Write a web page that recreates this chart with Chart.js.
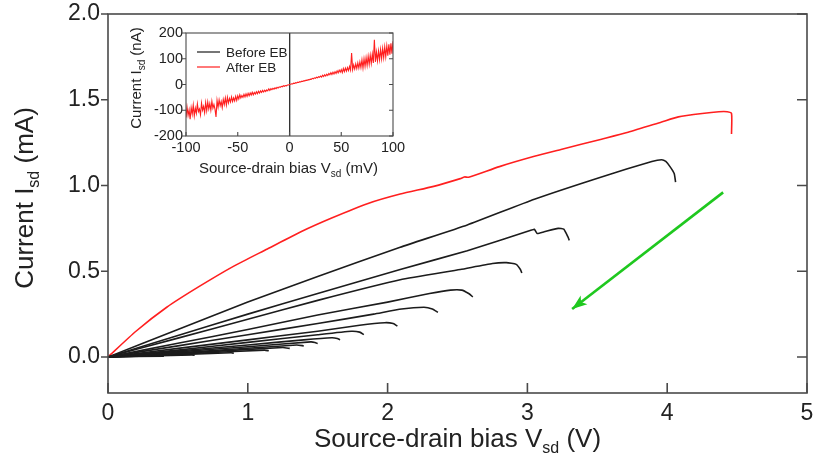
<!DOCTYPE html>
<html>
<head>
<meta charset="utf-8">
<script src="https://cdn.jsdelivr.net/npm/chart.js@4.4.1/dist/chart.umd.min.js"></script>
<style>
  body { margin: 0; background: #fff; }
  #wrap { position: relative; width: 814px; height: 470px; }
  #mainChart { position: absolute; left: 0; top: 0; }
  #insetChart { position: absolute; left: 120px; top: 25px; }
</style>
</head>
<body>
<div id="wrap">
  <canvas id="mainChart" width="814" height="470"></canvas>
  <canvas id="insetChart" width="290" height="160"></canvas>
</div>
<script>
// main panel: I-V sweeps, [Vsd (V), Isd (mA)]
const afterEB = [[0,0],[0.2,0.15],[0.42,0.29],[0.65,0.41],[0.9,0.53],[1.14,0.63],[1.38,0.73],[1.6,0.81],[1.86,0.895],[2.09,0.95],[2.33,0.995],[2.52,1.04],[2.55,1.05],[2.58,1.048],[2.8,1.11],[3.05,1.17],[3.24,1.21],[3.53,1.27],[3.72,1.31],[3.96,1.37],[4.08,1.4],[4.25,1.42],[4.37,1.43],[4.43,1.43],[4.46,1.42],[4.46,1.3]];

const black1 = [[0,0],[0.5,0.16],[1.0,0.32],[1.5,0.47],[2.09,0.64],[2.57,0.77],[3.05,0.92],[3.53,1.05],[3.89,1.14],[3.96,1.15],[3.99,1.14],[4.02,1.11],[4.05,1.07],[4.06,1.02]];
const black2 = [[0,0],[0.5,0.125],[1.0,0.25],[1.5,0.37],[2.09,0.51],[2.57,0.62],[3.03,0.74],[3.05,0.745],[3.07,0.72],[3.12,0.73],[3.22,0.75],[3.26,0.745],[3.29,0.7],[3.3,0.68]];
const black3 = [[0,0],[0.5,0.11],[1.0,0.22],[1.5,0.33],[2.09,0.45],[2.52,0.51],[2.75,0.545],[2.85,0.55],[2.92,0.54],[2.95,0.51],[2.96,0.49]];
const black4 = [[0,0],[0.5,0.08],[1.0,0.16],[1.5,0.245],[2.0,0.32],[2.3,0.37],[2.45,0.39],[2.53,0.39],[2.58,0.37],[2.61,0.35]];
const black5 = [[0,0],[0.5,0.065],[1.0,0.13],[1.5,0.195],[1.9,0.25],[2.1,0.28],[2.26,0.29],[2.32,0.28],[2.36,0.26]];
const black6 = [[0,0],[0.5,0.05],[1.0,0.1],[1.5,0.15],[1.8,0.185],[1.98,0.2],[2.04,0.195],[2.07,0.18]];
const black7 = [[0,0],[0.5,0.04],[1.0,0.085],[1.5,0.13],[1.74,0.15],[1.8,0.145],[1.83,0.13]];
const black8 = [[0,0],[0.5,0.035],[1.0,0.07],[1.4,0.1],[1.6,0.112],[1.64,0.108],[1.66,0.1]];
const black9 = [[0,0],[0.5,0.03],[1.0,0.06],[1.45,0.088],[1.48,0.085],[1.5,0.078]];
const black10 = [[0,0],[0.7,0.035],[1.35,0.07],[1.4,0.065]];
const black11 = [[0,0],[0.7,0.03],[1.25,0.055],[1.3,0.05]];
const black12 = [[0,0],[0.6,0.02],[1.12,0.04],[1.15,0.036]];
const black13 = [[0,0],[0.5,0.013],[0.88,0.025],[0.9,0.022]];
const black14 = [[0,0],[0.6,0.012],[0.62,0.01]];
const black15 = [[0,0],[0.4,0.005]];
const beforeEBCurves = [black1, black2, black3, black4, black5, black6, black7, black8, black9, black10, black11, black12, black13, black14, black15];

const arrowPath = [[4.4,0.96],[3.32,0.28]];

const xTickValues = [0, 1, 2, 3, 4, 5];
const yTickValues = [0, 0.5, 1.0, 1.5, 2.0];

// inset: [Vsd (mV), Isd (nA)]
const insetBefore = [[-0.2,-200],[0.2,200]];
const insetV = [];
for (let v = -100; v <= 100; v++) insetV.push(v);
const insetAfterI = [
  -128,-88,-120,-98,-135,-90,-115,-80,-122,-92,
  -112,-75,-105,-95,-118,-72,-100,-85,-110,-70,
  -102,-68,-95,-74,-100,-65,-92,-78,-96,-126,
  -62,-88,-60,-82,-66,-90,-58,-78,-52,-80,
  -50,-72,-54,-68,-48,-66,-52,-64,-46,-62,
  -44,-56,-40,-52,-43,-50,-38,-48,-36,-46,
  -34,-44,-33,-41,-30,-40,-31,-37,-28,-36,
  -26,-33,-25,-31,-23,-29,-22,-27,-21,-25,
  -17,-23,-16,-20,-15,-18,-13,-16,-11,-14,
  -9,-11,-7,-9,-5,-7,-4,-5,-2,-2,
  0,1,3,2,5,4,7,6,9,8,
  11,10,13,12,15,14,17,16,19,18,
  21,20,24,22,26,24,28,26,30,28,
  33,29,36,31,38,33,40,35,43,38,
  46,39,48,41,50,43,53,45,56,48,
  58,46,62,50,64,52,66,54,70,56,
  122,58,76,60,80,62,84,64,88,66,
  96,64,100,70,104,74,110,78,114,82,
  118,84,174,88,126,92,130,96,136,100,
  140,104,146,108,150,112,156,116,160,120,
  168
];
const insetXTicks = [-100, -50, 0, 50, 100];
const insetYTicks = [-200, -100, 0, 100, 200];

const RED = '#ff1f1f'
const BLACK = '#1c1c1c'
const GREEN = '#1fc81f'
const AXIS = '#4a4a4a'
const FONT = "'Liberation Sans', Arial, sans-serif"

function toPoints(arr) {
  return arr.map(p => ({x: p[0], y: p[1]}))
}

function drawSubText(ctx, parts, x, y, rot, bigSize, smallSize, drop) {
  ctx.save()
  ctx.translate(x, y)
  ctx.rotate(rot)
  ctx.fillStyle = '#222'
  ctx.textAlign = 'left'
  ctx.textBaseline = 'alphabetic'
  const big = bigSize + 'px ' + FONT
  const small = smallSize + 'px ' + FONT
  ctx.font = big
  const w1 = ctx.measureText(parts[0]).width
  const w3 = ctx.measureText(parts[2]).width
  ctx.font = small
  const w2 = ctx.measureText(parts[1]).width
  let cx = -(w1 + w2 + w3) / 2
  ctx.font = big
  ctx.fillText(parts[0], cx, 0)
  cx += w1
  ctx.font = small
  ctx.fillText(parts[1], cx, drop)
  cx += w2
  ctx.font = big
  ctx.fillText(parts[2], cx, 0)
  ctx.restore()
}

// frame, mirrored ticks, axis titles, arrow head
const framePlugin = {
  id: 'frame',
  afterDatasetsDraw(chart, args, opts) {
    const {ctx, chartArea: a, scales: {x, y}} = chart
    ctx.save()
    ctx.strokeStyle = AXIS
    ctx.lineWidth = opts.width
    ctx.strokeRect(a.left, a.top, a.right - a.left, a.bottom - a.top)
    ctx.beginPath()
    y.ticks.forEach(t => {
      const py = y.getPixelForValue(t.value)
      ctx.moveTo(a.left - opts.outLen, py)
      ctx.lineTo(a.left, py)
      ctx.moveTo(a.right, py)
      ctx.lineTo(a.right - opts.inLen, py)
    })
    x.ticks.forEach(t => {
      const px = x.getPixelForValue(t.value)
      ctx.moveTo(px, a.bottom)
      ctx.lineTo(px, a.bottom - opts.inLen)
    })
    ctx.stroke()
    ctx.restore()

    const xt = opts.xTitle, yt = opts.yTitle
    drawSubText(ctx, xt.parts, (a.left + a.right) / 2 + xt.dx, a.bottom + xt.dy, 0, xt.size, xt.sub, xt.drop)
    drawSubText(ctx, yt.parts, yt.x, a.top + yt.dy, -Math.PI / 2, yt.size, yt.sub, yt.drop)

    chart.data.datasets.forEach((ds, i) => {
      if (!ds.arrowHead) return
      const pts = chart.getDatasetMeta(i).data
      const p0 = pts[pts.length - 2], p1 = pts[pts.length - 1]
      const ang = Math.atan2(p1.y - p0.y, p1.x - p0.x)
      const len = 15, half = 5.5
      ctx.save()
      ctx.fillStyle = ds.borderColor
      ctx.translate(p1.x, p1.y)
      ctx.rotate(ang)
      ctx.beginPath()
      ctx.moveTo(0, 0)
      ctx.lineTo(-len, -half)
      ctx.lineTo(-len * 0.75, 0)
      ctx.lineTo(-len, half)
      ctx.closePath()
      ctx.fill()
      ctx.restore()
    })
  }
}

// keep the plot box where the reference has it
function fixX(h) {
  return s => { s.height = h; s.paddingLeft = 0; s.paddingRight = 0 }
}
function fixY(w) {
  return s => { s.width = w; s.paddingTop = 0; s.paddingBottom = 0 }
}

const mainDatasets = beforeEBCurves.map(c => ({
  data: toPoints(c),
  borderColor: BLACK,
  borderWidth: 1.6,
  tension: 0.15
}))
mainDatasets.push({data: toPoints(afterEB), borderColor: RED, borderWidth: 1.6, tension: 0.2})
mainDatasets.push({data: toPoints(arrowPath), borderColor: GREEN, borderWidth: 2.6, arrowHead: true})
mainDatasets.forEach(d => { d.showLine = true; d.pointRadius = 0; d.fill = false })

new Chart(document.getElementById('mainChart').getContext('2d'), {
  type: 'scatter',
  data: {datasets: mainDatasets},
  options: {
    responsive: false,
    animation: false,
    devicePixelRatio: 1,
    layout: {padding: {top: 14, right: 7, left: 0, bottom: 0}},
    plugins: {
      legend: {display: false},
      tooltip: {enabled: false},
      frame: {
        width: 1.6, outLen: 7, inLen: 10,
        xTitle: {parts: ['Source-drain bias V', 'sd', ' (V)'], size: 26, sub: 16, drop: 6, dx: 0, dy: 54},
        yTitle: {parts: ['Current I', 'sd', ' (mA)'], size: 26, sub: 16, drop: 6, x: 33, dy: 184}
      }
    },
    scales: {
      x: {
        type: 'linear', min: 0, max: 5,
        grid: {display: false, drawTicks: false},
        border: {display: false},
        ticks: {font: {family: FONT, size: 23}, color: '#222', padding: 7, maxRotation: 0},
        afterBuildTicks: s => { s.ticks = xTickValues.map(v => ({value: v})) },
        afterFit: fixX(77)
      },
      y: {
        type: 'linear', min: -0.21, max: 2.0,
        grid: {display: false, drawTicks: false},
        border: {display: false},
        ticks: {font: {family: FONT, size: 23}, color: '#222', padding: 8, callback: v => v.toFixed(1)},
        afterBuildTicks: s => { s.ticks = yTickValues.map(v => ({value: v})) },
        afterFit: fixY(108)
      }
    }
  },
  plugins: [framePlugin]
})

// inset legend
const insetLegendPlugin = {
  id: 'insetLegend',
  afterDatasetsDraw(chart) {
    const {ctx, chartArea: a} = chart
    const items = [['Before EB', BLACK], ['After EB', RED]]
    ctx.save()
    ctx.font = '13.5px ' + FONT
    ctx.textBaseline = 'middle'
    items.forEach((it, i) => {
      const yy = a.top + 19 + i * 15
      ctx.strokeStyle = it[1]
      ctx.lineWidth = 1.2
      ctx.beginPath()
      ctx.moveTo(a.left + 11, yy)
      ctx.lineTo(a.left + 34, yy)
      ctx.stroke()
      ctx.fillStyle = '#222'
      ctx.fillText(it[0], a.left + 40, yy + 1)
    })
    ctx.restore()
  }
}

new Chart(document.getElementById('insetChart').getContext('2d'), {
  type: 'scatter',
  data: {
    datasets: [
      {data: insetV.map((v, i) => ({x: v, y: insetAfterI[i]})), borderColor: RED, borderWidth: 1.1, showLine: true, pointRadius: 0},
      {data: toPoints(insetBefore), borderColor: BLACK, borderWidth: 1.2, showLine: true, pointRadius: 0}
    ]
  },
  options: {
    responsive: false,
    animation: false,
    devicePixelRatio: 1,
    layout: {padding: {top: 8, right: 17, left: 0, bottom: 0}},
    plugins: {
      legend: {display: false},
      tooltip: {enabled: false},
      frame: {
        width: 1.1, outLen: 4, inLen: 4,
        xTitle: {parts: ['Source-drain bias V', 'sd', ' (mV)'], size: 15, sub: 10, drop: 4, dx: -1, dy: 37},
        yTitle: {parts: ['Current I', 'sd', ' (nA)'], size: 15, sub: 10, drop: 4, x: 21, dy: 45}
      }
    },
    scales: {
      x: {
        type: 'linear', min: -100, max: 100,
        grid: {display: false, drawTicks: false},
        border: {display: false},
        ticks: {font: {family: FONT, size: 14.5}, color: '#222', padding: 3, maxRotation: 0},
        afterBuildTicks: s => { s.ticks = insetXTicks.map(v => ({value: v})) },
        afterFit: fixX(49)
      },
      y: {
        type: 'linear', min: -200, max: 200,
        grid: {display: false, drawTicks: false},
        border: {display: false},
        ticks: {font: {family: FONT, size: 14.5}, color: '#222', padding: 3},
        afterBuildTicks: s => { s.ticks = insetYTicks.map(v => ({value: v})) },
        afterFit: fixY(66)
      }
    }
  },
  plugins: [framePlugin, insetLegendPlugin]
})
</script>
</body>
</html>
